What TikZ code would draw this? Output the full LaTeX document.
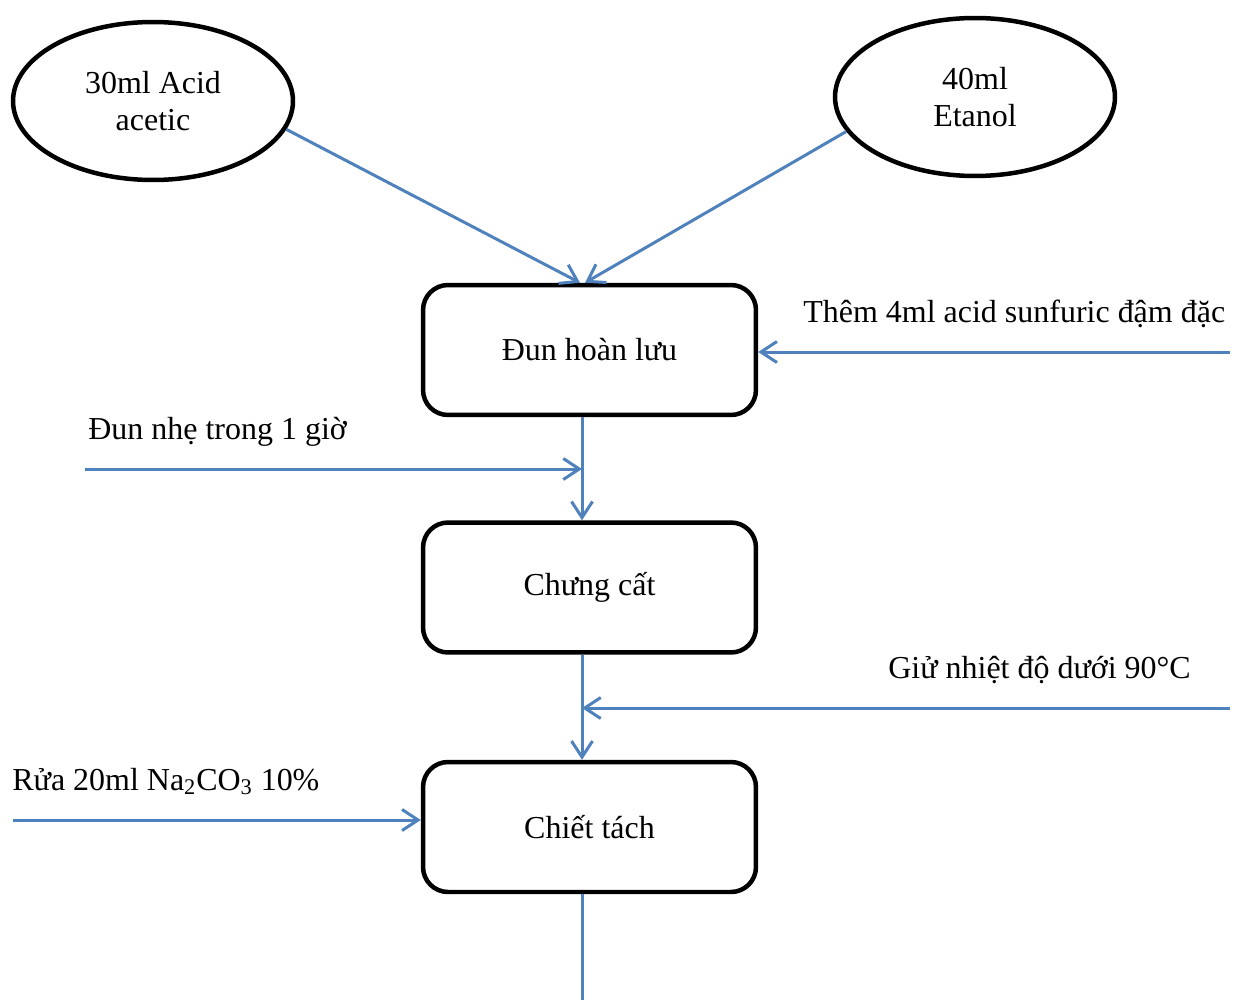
\documentclass[tikz,border=0pt]{standalone}
\usepackage{fontspec}
\setmainfont{Liberation Serif}
\usetikzlibrary{arrows.meta,shapes.geometric}

\definecolor{flowblue}{RGB}{79,129,189}

\tikzset{
  txt/.style={font=\fontsize{18.2pt}{21.5pt}\selectfont},
  feed/.style={ellipse, draw, line width=0.09cm, minimum width=5.6cm,
    minimum height=3.16cm, align=center, txt},
  stage/.style={draw, line width=0.09cm, rounded corners=0.5cm,
    minimum width=6.66cm, minimum height=2.6cm, txt},
  flow/.style={flowblue, line width=0.06cm,
    -{Straight Barb[length=3.2mm,width=4.2mm,line width=0.06cm]}},
  pipe/.style={flowblue, line width=0.06cm},
  note/.style={anchor=base west, inner sep=0pt, txt}
}

\begin{document}
\begin{tikzpicture}[x=0.02cm, y=-0.02cm]
    \useasboundingbox (0,0) rectangle (1236,1000);
    % raw materials
    \node[feed] (acid) at (153,101) {30ml Acid\\acetic};
    \node[feed] (ethanol) at (975,97) {40ml\\Etanol};
    % process steps
    \node[stage] (boil) at (589.5,350) {Đun hoàn lưu};
    \node[stage] (still) at (589.5,587.5) {Chưng cất};
    \node[stage] (extract) at (589.5,827) {Chiết tách};
    % main line and free ends
    \coordinate (line) at (582,0);
    \coordinate (sulfin) at (1230,352);
    \coordinate (heat) at (85,469);
    \coordinate (keep) at (1230,708);
    \coordinate (wash) at (13,820);
    \coordinate (out) at (582,1000);
    \draw[flow] (acid.-12) -- ([xshift=-0.04cm]boil.north -| line);
    \draw[flow] (ethanol.-165) -- ([xshift=0.06cm]boil.north -| line);
    \draw[flow] (boil.south -| line) -- (still.north -| line);
    \draw[flow] (still.south -| line) -- (extract.north -| line);
    \draw[pipe] (extract.south -| line) -- (out);
    \draw[flow] (sulfin) -- (sulfin -| boil.east);
    \draw[flow] (heat) -- (heat -| line);
    \draw[flow] (keep) -- (keep -| line);
    \draw[flow] (wash) -- (wash -| extract.west);
    % conditions
    \node[note] (sulftxt) at (803,322) {Thêm 4ml acid sunfuric đậm đặc};
    \node[note] (heattxt) at (88,439) {Đun nhẹ trong 1 giờ};
    \node[note] (keeptxt) at (888,678) {Giử nhiệt độ dưới 90°C};
    \node[note] (washtxt) at (12,790) {Rửa 20ml Na\textsubscript{2}CO\textsubscript{3} 10\%};
\end{tikzpicture}
\end{document}
